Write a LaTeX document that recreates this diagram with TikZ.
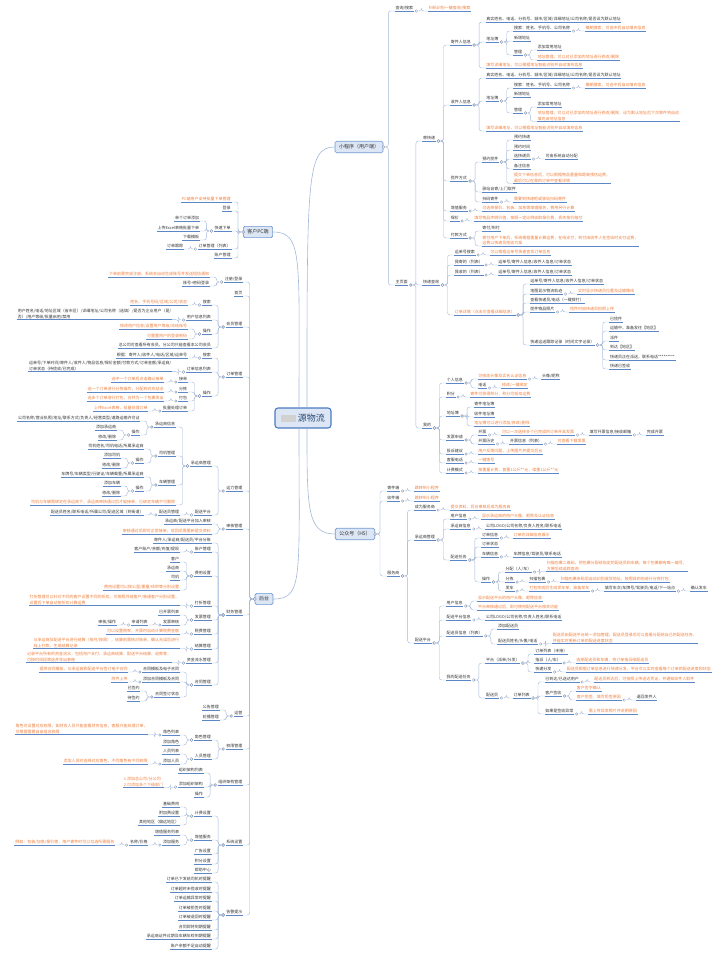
\documentclass[tikz,border=0pt]{standalone}
\usepackage{fontspec}
\setmainfont{Noto Sans CJK SC}
\definecolor{txt}{HTML}{333333}
\definecolor{noteorange}{HTML}{EE7E3C}
\definecolor{ulblue}{HTML}{5B87C6}
\definecolor{linkblue}{HTML}{A3B7D8}
\definecolor{topicfill}{HTML}{DCE6F4}
\definecolor{topicdraw}{HTML}{6F98D3}
\definecolor{rootblue}{HTML}{4A7CC4}

% right-hand leaf: [style]{name}{parent}{y}{text}
\newcommand\rleaf[5][leaf]{%
  \path (#3-o) ++(9.5,0) coordinate (#2-b) (0,#4) coordinate (#2-a);
  \node[#1, anchor=west] (#2) at (#2-b |- #2-a) {#5};
  \draw[uline] (#2.south west) -- (#2.south east);
  \coordinate (#2-o) at ([xshift=4.5pt]#2.south east);
  \draw[link] (#3-o) -- ++(3,0) |- (#2.south west);
  \node[knob] (#3-k) at ([xshift=-2pt]#3-o) {};
}
% left-hand leaf
\newcommand\lleaf[5][leaf]{%
  \path (#3-o) ++(-9.5,0) coordinate (#2-b) (0,#4) coordinate (#2-a);
  \node[#1, anchor=east] (#2) at (#2-b |- #2-a) {#5};
  \draw[uline] (#2.south west) -- (#2.south east);
  \coordinate (#2-o) at ([xshift=-4.5pt]#2.south west);
  \draw[link] (#3-o) -- ++(-3,0) |- (#2.south east);
  \node[knob] (#3-k) at ([xshift=2pt]#3-o) {};
}

\begin{document}
\begin{tikzpicture}[
    x=1pt, y=-1pt,
    lf/.style = {inner xsep=0.6pt, inner ysep=0.7pt, align=left,
                 font=\fontsize{4}{5.4}\selectfont, text=txt},
    leaf/.style = {lf, text height=3.3pt, text depth=0.9pt},
    note/.style = {leaf, text=noteorange},
    note2/.style = {lf, text=noteorange},
    uline/.style = {draw=ulblue, line width=0.45pt},
    link/.style = {draw=linkblue, line width=0.4pt, rounded corners=2.5pt},
    knob/.style = {circle, draw=linkblue!80!black, fill=white, line width=0.3pt,
                   inner sep=0pt, minimum size=2.6pt},
    topic/.style = {draw=topicdraw, line width=0.6pt, fill=topicfill,
                    rounded corners=1.5pt, inner xsep=4pt, minimum height=11pt,
                    font=\fontsize{5}{6}\selectfont, text=txt},
    rootbox/.style = {draw=rootblue, line width=1.1pt, fill=topicfill,
                      rounded corners=3pt, minimum width=56pt, minimum height=20pt,
                      font=\fontsize{9}{10}\selectfont, text=rootblue!60!black},
    trunk/.style = {draw=linkblue, line width=0.6pt}
]
\useasboundingbox (0,0) rectangle (720,955);

\node[rootbox] (root) at (303,418) {\textcolor{black!18}{\rule[-0.5pt]{15pt}{7pt}}\hspace{1.5pt}源物流};

\node[topic] (mini) at (359,147) {小程序（用户端）};
\node[topic] (h5) at (355,534) {公众号（H5）};
\node[topic] (pc) at (258,232) {客户PC端};
\node[topic] (admin) at (264,599) {后台};
\coordinate (mini-o) at ([xshift=2pt]mini.east);
\coordinate (h5-o) at ([xshift=2pt]h5.east);
\coordinate (pc-o) at ([xshift=-2pt]pc.west);
\coordinate (admin-o) at ([xshift=-2pt]admin.west);

\draw[trunk] ([xshift=4pt]root.north) .. controls +(0,-230) and +(-28,0) .. (mini.west);
\draw[trunk] ([xshift=4pt]root.south) .. controls +(0,80) and +(-28,0) .. (h5.west);
\draw[trunk] ([xshift=-4pt]root.north) .. controls +(0,-150) and +(30,0) .. (pc.east);
\draw[trunk] ([xshift=-4pt]root.south) .. controls +(0,150) and +(30,0) .. (admin.east);

% 小程序（用户端）
\rleaf{mq}{mini}{8}{查询/搜索}
\rleaf[note]{mqa}{mq}{8}{扫码识别一键查询/搜索}
\rleaf{mh}{mini}{282}{主页面}
\rleaf{ms}{mh}{138}{寄快递}
\rleaf{msa}{ms}{42}{寄件人信息}
\rleaf{msa1}{msa}{19}{真实姓名、电话、分机号、城市/区域/详细地址/公司名称/是否设为默认地址}
\rleaf{msa2}{msa}{39}{地址簿}
\rleaf{msa21}{msa2}{28}{搜索：姓名、手机号、公司名称}
\rleaf[note]{msa211}{msa21}{28}{模糊搜索，可选中后自动填充信息}
\rleaf{msa22}{msa2}{38}{新增地址}
\rleaf{msa23}{msa2}{52}{管理}
\rleaf{msa231}{msa23}{47}{添加常用地址}
\rleaf[note]{msa232}{msa23}{57}{地址管理，可以对已添加的地址进行修改/删除}
\rleaf[note]{msa3}{msa}{65}{填写详细地址，可以根据地址智能识别并自动填充信息}
\rleaf{msb}{ms}{102}{收件人信息}
\rleaf{msb1}{msb}{75}{真实姓名、电话、分机号、城市/区域/详细地址/公司名称/是否设为默认地址}
\rleaf{msb2}{msb}{98}{地址簿}
\rleaf{msb21}{msb2}{85}{搜索：姓名、手机号、公司名称}
\rleaf[note]{msb211}{msb21}{85}{模糊搜索，可选中后自动填充信息}
\rleaf{msb22}{msb2}{94}{新增地址}
\rleaf{msb23}{msb2}{110}{管理}
\rleaf{msb231}{msb23}{104}{添加常用地址}
\rleaf[note2]{msb232}{msb23}{116}{地址管理，可以对已添加的地址进行修改/删除，设为默认地址后下次寄件将自动\\填充该地址信息}
\rleaf[note]{msb3}{msb}{128}{填写详细地址，可以根据地址智能识别并自动填充信息}
\rleaf{msc}{ms}{178}{揽件方式}
\rleaf{msc1}{msc}{159}{预约揽件}
\rleaf{msc11}{msc1}{137}{预约快递}
\rleaf{msc12}{msc1}{147}{预约时间}
\rleaf{msc13}{msc1}{156}{选快递员}
\rleaf{msc131}{msc13}{156}{可由系统自动分配}
\rleaf{msc14}{msc1}{166}{备注信息}
\rleaf[note2]{msc15}{msc1}{178}{提交下单信息后，可以根据物品重量和距离预估运费，\\最后可以在我的订单中查看详情}
\rleaf{msc2}{msc}{189}{驿站自寄/上门取件}
\rleaf{msc3}{msc}{199}{扫码寄件}
\rleaf[note]{msc31}{msc3}{199}{需要到快递柜或驿站扫码寄件}
\rleaf{msd}{ms}{208}{增值服务}
\rleaf[note]{msd1}{msd}{208}{可选择保价、包装、加急等增值服务，费用另行计算}
\rleaf{mse}{ms}{218}{保价}
\rleaf[note]{mse1}{mse}{218}{填写物品声明价值，按照一定比例收取保价费，丢失按价赔付}
\rleaf{msf}{ms}{235}{付款方式}
\rleaf{msf1}{msf}{228}{寄付/到付}
\rleaf[note2]{msf2}{msf}{240.5}{寄付用户下单后，系统根据重量计算运费，在线支付；到付由收件人在签收时支付运费，\\运费以快递员揽收为准}
\rleaf{mt}{mh}{282}{快递查询}
\rleaf{mt1}{mt}{252}{运单号搜索}
\rleaf[note]{mt11}{mt1}{252}{可以根据运单号快速查找订单信息}
\rleaf{mt2}{mt}{262}{我寄的（列表）}
\rleaf{mt21}{mt2}{262}{运单号/寄件人信息/收件人信息/订单状态}
\rleaf{mt3}{mt}{272}{我收的（列表）}
\rleaf{mt31}{mt3}{272}{运单号/寄件人信息/收件人信息/订单状态}
\rleaf[note]{mt4}{mt}{312}{订单详情（点击可查看详细信息）}
\rleaf{mt41}{mt4}{281}{运单号/寄件人信息/收件人信息/订单状态}
\rleaf{mt42}{mt4}{291}{地图显示物流轨迹}
\rleaf[note]{mt421}{mt42}{291}{实时显示快递员位置及运输路线}
\rleaf{mt43}{mt4}{300}{查看快递员/电话（一键拨打）}
\rleaf{mt44}{mt4}{309}{揽件物品照片}
\rleaf[note]{mt441}{mt44}{309}{揽件时由快递员拍照上传}
\rleaf{mt45}{mt4}{342}{快递运送跟踪记录（时间文字记录）}
\rleaf{mt451}{mt45}{319}{已揽件}
\rleaf{mt452}{mt45}{328}{运输中，准备发往【地区】}
\rleaf{mt453}{mt45}{338}{派件}
\rleaf{mt454}{mt45}{347}{到达【地区】}
\rleaf{mt455}{mt45}{357}{快递员正在派送，联系电话*********}
\rleaf{mt456}{mt45}{366}{快递已签收}
\rleaf{mm}{mh}{425}{我的}
\rleaf{mm1}{mm}{380}{个人信息}
\rleaf[note]{mm11}{mm1}{376}{可修改头像及实名认证信息}
\rleaf{mm111}{mm11}{376}{头像/昵称}
\rleaf{mm12}{mm1}{385}{电话}
\rleaf[note]{mm121}{mm12}{385}{修改/一键绑定}
\rleaf{mm2}{mm}{394}{积分}
\rleaf[note]{mm21}{mm2}{394}{寄件可获得积分，积分可抵扣运费}
\rleaf{mm3}{mm}{413}{地址簿}
\rleaf{mm31}{mm3}{404}{寄件地址簿}
\rleaf{mm32}{mm3}{414}{收件地址簿}
\rleaf[note]{mm33}{mm3}{423}{地址簿可以进行添加/修改/删除}
\rleaf{mm4}{mm}{437}{发票申请}
\rleaf{mm41}{mm4}{432}{开票}
\rleaf[note]{mm411}{mm41}{432}{可以一次选择多个已完成的订单开具发票}
\rleaf{mm412}{mm411}{432}{填写开票信息/接收邮箱}
\rleaf{mm413}{mm412}{432}{完成开票}
\rleaf{mm42}{mm4}{441}{开票历史}
\rleaf{mm421}{mm42}{441}{开票信息（列表）}
\rleaf[note]{mm422}{mm421}{441}{可查看下载发票}
\rleaf{mm5}{mm}{451}{投诉建议}
\rleaf[note]{mm51}{mm5}{451}{用户反馈问题，上传图片并提交后台}
\rleaf{mm6}{mm}{460}{客服电话}
\rleaf[note]{mm61}{mm6}{460}{一键拨号}
\rleaf{mm7}{mm}{470}{计费模式}
\rleaf[note]{mm71}{mm7}{470}{按重量计费，首重1公斤**元，续重1公斤**元}

% 公众号（H5）
\rleaf{ha}{h5}{488}{寄件端}
\rleaf[note]{ha1}{ha}{488}{跳转到小程序}
\rleaf{hb}{h5}{498}{收件端}
\rleaf[note]{hb1}{hb}{498}{跳转到小程序}
\rleaf{hc}{h5}{573}{服务商}
\rleaf{hc1}{hc}{507}{成为服务商}
\rleaf[note]{hc11}{hc1}{507}{提交资料，后台审核后成为服务商}
\rleaf{hc2}{hc}{537}{承运商管理}
\rleaf{hc21}{hc2}{516}{用户信息}
\rleaf[note]{hc211}{hc21}{516}{显示承运商的用户头像、昵称及认证信息}
\rleaf{hc22}{hc2}{526}{承运商信息}
\rleaf{hc221}{hc22}{526}{公司LOGO/公司名称/负责人姓名/联系电话}
\rleaf{hc23}{hc2}{557}{配送任务}
\rleaf{hc231}{hc23}{535}{订单信息}
\rleaf[note]{hc2311}{hc231}{535}{订单的详细信息展示}
\rleaf{hc232}{hc23}{544}{订单状态}
\rleaf{hc233}{hc23}{554}{车辆信息}
\rleaf{hc2331}{hc233}{554}{车牌信息/驾驶员/联系电话}
\rleaf{hc234}{hc23}{579}{操作}
\rleaf{hc2341}{hc234}{569}{分配（人/车）}
\rleaf[note2]{hc23411}{hc2341}{566}{扫描包裹二维码，把包裹分配给指定的配送员和车辆，每个包裹都有唯一编号，\\方便后续追踪查询}
\rleaf{hc2342}{hc234}{579}{分拣}
\rleaf{hc23421}{hc2342}{579}{扫描包裹}
\rleaf[note]{hc23422}{hc23421}{579}{扫描包裹条码后自动识别收货地址，按照目的地进行分拣打包}
\rleaf{hc2343}{hc234}{588}{发车}
\rleaf[note]{hc23431}{hc2343}{588}{打包完成后生成发车单，准备发车}
\rleaf{hc23432}{hc23431}{588}{填写车次/车牌号/驾驶员/电话/下一站点}
\rleaf{hc23433}{hc23432}{588}{确认发车}
\rleaf{hc3}{hc}{640}{配送平台}
\rleaf{hc31}{hc3}{603}{用户信息}
\rleaf[note]{hc311}{hc31}{598}{显示配送平台的用户头像、昵称信息}
\rleaf[note]{hc312}{hc31}{607}{平台审核通过后，即可使用配送平台相关功能}
\rleaf{hc32}{hc3}{617}{配送平台信息}
\rleaf{hc321}{hc32}{617}{公司LOGO/公司名称/负责人姓名/联系电话}
\rleaf{hc33}{hc3}{633}{配送员信息（列表）}
\rleaf{hc331}{hc33}{626}{添加配送员}
\rleaf{hc332}{hc33}{641}{配送员姓名/头像/电话}
\rleaf[note2]{hc3321}{hc332}{638}{配送员由配送平台统一添加管理，配送员登录后可以查看分配给自己的配送任务，\\并能实时更新订单的配送进度状态}
\rleaf{hc34}{hc3}{677}{我的配送任务}
\rleaf{hc341}{hc34}{660}{平台（派单/分发）}
\rleaf{hc3411}{hc341}{651}{订单列表（未接）}
\rleaf{hc3412}{hc341}{660}{指派（人/车）}
\rleaf[note]{hc34121}{hc3412}{660}{选择配送员和车辆，将订单指派给配送员}
\rleaf{hc3413}{hc341}{669}{快递分发}
\rleaf[note]{hc34131}{hc3413}{669}{配送员根据订单信息进行快递分发，平台可以实时查看每个订单的配送进度和状态}
\rleaf{hc342}{hc34}{695}{配送员}
\rleaf{hc3421}{hc342}{695}{订单列表}
\rleaf{hc34211}{hc3421}{679}{已到达/已送达用户}
\rleaf[note]{hc342111}{hc34211}{679}{配送员到达后，可拍照上传送达凭证，并通知收件人取件}
\rleaf{hc34212}{hc3421}{693}{客户签收}
\rleaf[note]{hc342121}{hc34212}{688}{客户签字确认}
\rleaf[note]{hc342122}{hc34212}{697}{客户拒签，填写拒签原因}
\rleaf{hc3421221}{hc342122}{697}{退回发件人}
\rleaf{hc34213}{hc3421}{711}{如果是签收异常}
\rleaf[note]{hc342131}{hc34213}{711}{需上传异常照片并说明原因}

% 客户PC端
\lleaf[note]{pa}{pc}{199}{PC端用户支持批量下单管理}
\lleaf{pb}{pc}{208}{登录}
\lleaf{pq}{pc}{228}{快速下单}
\lleaf{pq1}{pq}{218}{单个订单添加}
\lleaf{pq2}{pq}{228}{上传Excel表格批量下单}
\lleaf{pq3}{pq}{237}{下载模板}
\lleaf{pd}{pc}{246}{订单管理（列表）}
\lleaf{pd1}{pd}{246}{订单跟踪}
\lleaf{pe}{pc}{255}{账户管理}

% 后台
\lleaf{al}{admin}{279}{注册/登录}
\lleaf[note]{al1}{al}{274}{下单前需完成注册，系统会自动生成账号并发送短信通知}
\lleaf{al2}{al}{283}{账号+密码登录}
\lleaf{ah}{admin}{293}{首页}
\lleaf{au}{admin}{324}{会员管理}
\lleaf{au1}{au}{302}{搜索}
\lleaf[note]{au11}{au1}{302}{姓名、手机号码/区域/公司/状态}
\lleaf{au2}{au}{317}{用户信息列表}
\lleaf[lf]{au21}{au2}{314}{用户姓名/电话/地址区域（省市区）/详细地址/公司名称（选填）/是否为企业用户（是/\\否）/用户等级/批量启用/禁用}
\lleaf{au3}{au}{331}{操作}
\lleaf[note]{au31}{au3}{326}{修改用户信息/设置用户等级/冻结账号}
\lleaf[note]{au32}{au3}{336}{可重置用户的登录密码}
\lleaf{au4}{au}{345}{总公司可查看所有会员，分公司只能查看本公司会员}
\lleaf{ao}{admin}{374}{订单管理}
\lleaf{ao1}{ao}{355}{搜索}
\lleaf{ao11}{ao1}{355}{根据：寄件人/收件人/电话/区域/运单号}
\lleaf{ao2}{ao}{369}{订单信息列表}
\lleaf[lf]{ao21}{ao2}{366}{运单号/下单时间/寄件人/收件人/物品信息/保价金额/付款方式/订单金额/承运商/\\订单状态（待揽收/已完成）}
\lleaf{ao3}{ao}{393}{操作}
\lleaf{ao31}{ao3}{379}{接单}
\lleaf[note]{ao311}{ao31}{379}{选中一个订单后点击确认接单}
\lleaf{ao32}{ao3}{389}{分拣}
\lleaf[note]{ao321}{ao32}{389}{选一个订单进行分拣操作，分配到对应站点}
\lleaf{ao33}{ao3}{398}{打包}
\lleaf[note]{ao331}{ao33}{398}{选多个订单进行打包，合并为一个包裹发出}
\lleaf{ao34}{ao3}{408}{批量处理订单}
\lleaf[note]{ao341}{ao34}{408}{上传Excel表格，批量处理订单}
\lleaf{ay}{admin}{488}{运力管理}
\lleaf{ay1}{ay}{463}{承运商管理}
\lleaf{ay11}{ay1}{424}{承运商信息}
\lleaf{ay111}{ay11}{418}{公司名称/营业执照/地址/联系方式/负责人/经营类型/道路运输许可证}
\lleaf{ay112}{ay11}{432}{操作}
\lleaf{ay1121}{ay112}{427}{添加承运商}
\lleaf{ay1122}{ay112}{437}{修改/删除}
\lleaf{ay12}{ay1}{453}{司机管理}
\lleaf{ay121}{ay12}{446}{司机姓名/司机电话/所属承运商}
\lleaf{ay122}{ay12}{460}{操作}
\lleaf{ay1221}{ay122}{455}{添加司机}
\lleaf{ay1222}{ay122}{465}{修改/删除}
\lleaf{ay13}{ay1}{482}{车辆管理}
\lleaf{ay131}{ay13}{474}{车牌号/车辆类型/行驶证/车辆载重/所属承运商}
\lleaf{ay132}{ay13}{488}{操作}
\lleaf{ay1321}{ay132}{483}{添加车辆}
\lleaf{ay1322}{ay132}{493}{修改/删除}
\lleaf[note]{ay14}{ay1}{502}{司机与车辆需绑定在承运商下，承运商审核通过后才能接单，已绑定车辆不可删除}
\lleaf{ay2}{ay}{512}{配送平台}
\lleaf{ay21}{ay2}{512}{配送员管理}
\lleaf{ay211}{ay21}{512}{配送员姓名/联系电话/所属公司/配送区域（到街道）}
\lleaf{aa}{admin}{526}{审核管理}
\lleaf{aa1}{aa}{521}{承运商/配送平台加入审核}
\lleaf[note]{aa2}{aa}{531}{审核通过后即可正常接单，驳回后需重新提交资料}
\lleaf{af}{admin}{612}{财务管理}
\lleaf{af1}{af}{540}{寄件人/承运商/配送员/平台分账}
\lleaf{af2}{af}{549}{账户管理}
\lleaf{af21}{af2}{549}{客户账户/余额/充值/提现}
\lleaf{af3}{af}{573}{费用设置}
\lleaf{af31}{af3}{559}{客户}
\lleaf{af32}{af3}{568}{承运商}
\lleaf{af33}{af3}{577}{司机}
\lleaf[note]{af34}{af3}{587}{费用设置可以按公里/重量/体积等分别设置}
\lleaf{af4}{af}{603}{打折管理}
\lleaf[note2]{af41}{af4}{600}{打折管理可以针对不同的客户设置不同的折扣，可按照月结客户/普通客户分别设置，\\设置后下单自动按折扣计算运费}
\lleaf{af5}{af}{617}{发票管理}
\lleaf{af51}{af5}{612}{已开票列表}
\lleaf{af52}{af5}{622}{发票审核}
\lleaf{af521}{af52}{622}{申请列表}
\lleaf{af522}{af521}{622}{审核/操作}
\lleaf{af6}{af}{631}{税费管理}
\lleaf[note]{af61}{af6}{631}{可以设置税率，开票时自动计算税费金额}
\lleaf{af7}{af}{646}{结算管理}
\lleaf[note2]{af71}{af7}{643}{与承运商及配送平台进行结算（按月/按周），结算前需核对账单，确认无误后进行\\线上打款，生成结算记录}
\lleaf{af8}{af}{660}{资金流水管理}
\lleaf[note2]{af81}{af8}{657}{记录平台所有的资金流水，包括用户支付、承运商结算、配送平台结算、退款等，\\可按时间段筛选并导出表格}
\lleaf{af9}{af}{682}{合同管理}
\lleaf{af91}{af9}{669}{合同模板及电子合同}
\lleaf[note]{af911}{af91}{669}{提供合同模板，与承运商和配送平台签订电子合同}
\lleaf{af92}{af9}{679}{添加合同模板及合同}
\lleaf[note]{af921}{af92}{679}{附件上传}
\lleaf{af93}{af9}{694}{合同签订状态}
\lleaf{af931}{af93}{688}{已签约}
\lleaf{af932}{af93}{698}{待签约}
\lleaf{ar}{admin}{713}{运营}
\lleaf{ar1}{ar}{707}{公告管理}
\lleaf{ar2}{ar}{717}{轮播管理}
\lleaf{ap}{admin}{746}{权限管理}
\lleaf{ap1}{ap}{737}{角色管理}
\lleaf{ap11}{ap1}{732}{角色列表}
\lleaf[note2]{ap111}{ap11}{729}{角色可设置对应权限，如财务人员只能查看财务信息，客服只能处理订单，\\可根据需要自由组合权限}
\lleaf{ap12}{ap1}{742}{添加角色}
\lleaf{ap2}{ap}{756}{人员管理}
\lleaf{ap21}{ap2}{751}{人员列表}
\lleaf{ap22}{ap2}{761}{添加人员}
\lleaf[note]{ap221}{ap22}{761}{添加人员时选择对应角色，不同角色有不同权限}
\lleaf{ag}{admin}{782}{组织架构管理}
\lleaf{ag1}{ag}{770}{组织架构列表}
\lleaf{ag2}{ag}{784}{添加组织架构}
\lleaf[note2]{ag21}{ag2}{782}{1.添加总公司/分公司\\2.可添加多个下级部门}
\lleaf{ag3}{ag}{794}{操作}
\lleaf{as}{admin}{842}{系统设置}
\lleaf{as1}{as}{813}{计费设置}
\lleaf{as11}{as1}{804}{基础费用}
\lleaf{as12}{as1}{813}{附加费设置}
\lleaf{as13}{as1}{822}{其他地区（偏远地区）}
\lleaf{as2}{as}{837}{增值服务}
\lleaf{as21}{as2}{832}{增值服务列表}
\lleaf{as22}{as2}{842}{添加服务}
\lleaf{as221}{as22}{842}{名称/价格}
\lleaf[note]{as2211}{as221}{842}{例如：包装/加急/保价等，用户寄件时可以勾选所需服务}
\lleaf{as3}{as}{851}{广告设置}
\lleaf{as4}{as}{861}{积分设置}
\lleaf{as5}{as}{870}{帮助中心}
\lleaf{aw}{admin}{912}{告警提示}
\lleaf{aw1}{aw}{879}{订单已下发给司机时提醒}
\lleaf{aw2}{aw}{889}{订单超时未揽收时提醒}
\lleaf{aw3}{aw}{898}{订单运输异常时提醒}
\lleaf{aw4}{aw}{908}{订单被拒签时提醒}
\lleaf{aw5}{aw}{917}{订单被退回时提醒}
\lleaf{aw6}{aw}{927}{合同即将到期提醒}
\lleaf{aw7}{aw}{936}{承运商证件过期及车辆年检到期提醒}
\lleaf{aw8}{aw}{946}{账户余额不足自动提醒}

\end{tikzpicture}
\end{document}
